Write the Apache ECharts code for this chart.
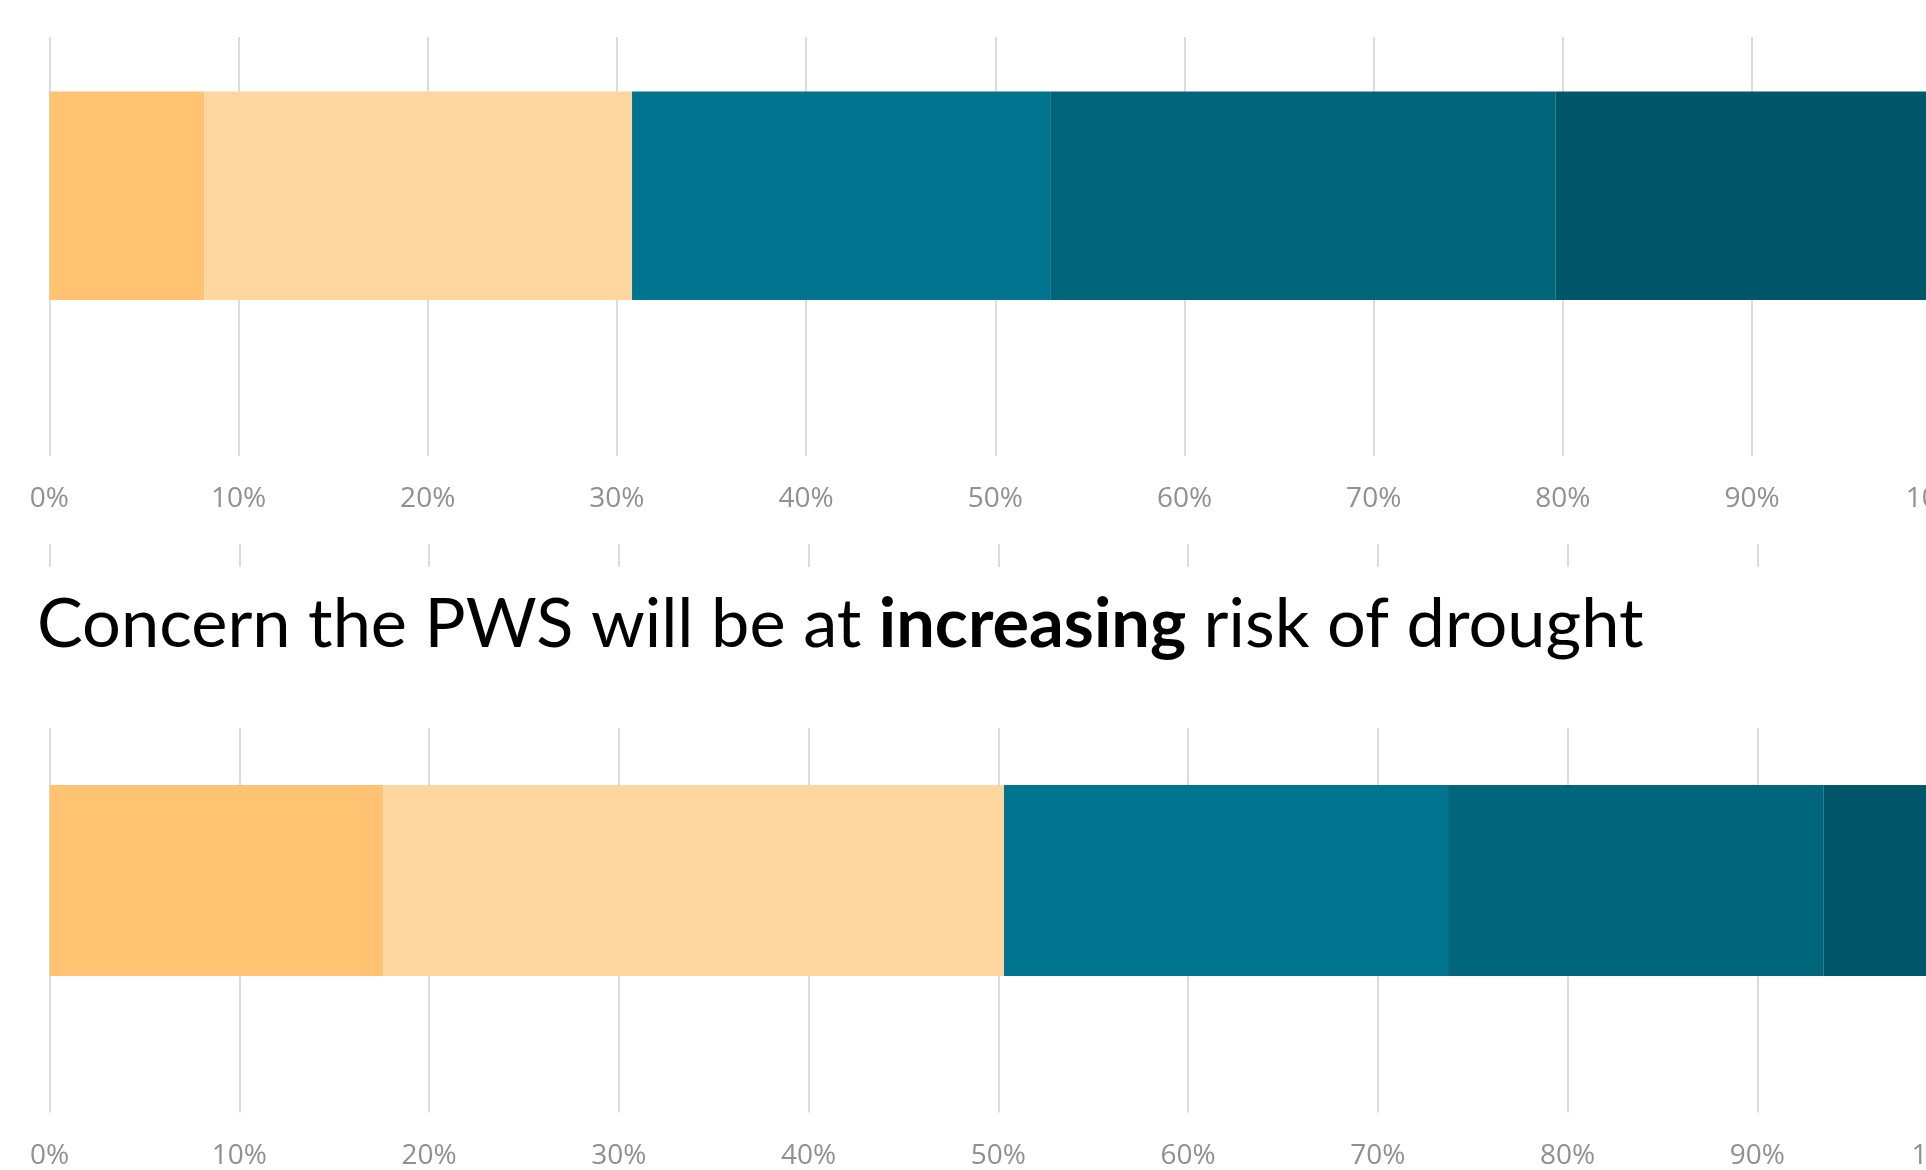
<!DOCTYPE html>
<html>
<head>
<meta charset="utf-8">
<script src="https://cdn.jsdelivr.net/npm/echarts@6/dist/echarts.min.js"></script>
<style>
html,body{margin:0;padding:0;background:#fff;overflow:hidden;}
#chart{width:1990px;height:1170px;}
</style>
</head>
<body>
<div id="chart"></div>
<script>
// ---- data ----
const levels = ['Not at all concerned', 'Slightly concerned', 'Moderately concerned', 'Very concerned', 'Extremely concerned'];
const categories = ['Current risk of drought', 'Increasing risk of drought'];
const topValues = [8.2, 22.6, 22.1, 26.7, 20.4];
const bottomValues = [17.6, 32.7, 23.4, 19.8, 6.5];
const tickValues = [0, 10, 20, 30, 40, 50, 60, 70, 80, 90, 100];
const colors = ['#FFC372', '#FED6A0', '#01758F', '#01667B', '#01566A'];
const titleText = 'Concern the PWS will be at ';
const titleBold = 'increasing';
const titleEnd = ' risk of drought';

const chart = echarts.init(document.getElementById('chart'), null, {renderer: 'canvas'});

const labelStyle = {fontFamily: 'Open Sans', fontSize: 28, color: '#909090'};
function gridAxis(gridIndex, margin) {
  return {
    type: 'value', gridIndex, min: tickValues[0], max: tickValues[tickValues.length - 1],
    interval: tickValues[1] - tickValues[0],
    axisLine: {show: false}, axisTick: {show: false},
    axisLabel: Object.assign({margin, formatter: '{value}%'}, labelStyle),
    splitLine: {show: true, lineStyle: {color: '#dcdcdc', width: 2}}
  };
}
function barAxis(gridIndex) {
  return {
    type: 'value', gridIndex, min: tickValues[0], max: tickValues[tickValues.length - 1],
    show: false, splitLine: {show: false}
  };
}
function catAxis(gridIndex, cat) {
  return {type: 'category', gridIndex, data: [cat], show: false, boundaryGap: true};
}

const series = [];
levels.forEach((name, i) => {
  series.push({
    name, type: 'bar', stack: 'top', xAxisIndex: 1, yAxisIndex: 1,
    barWidth: '100%', data: [topValues[i]], itemStyle: {color: colors[i]}, z: 3
  });
});
levels.forEach((name, i) => {
  series.push({
    name, type: 'bar', stack: 'bottom', xAxisIndex: 3, yAxisIndex: 3,
    barWidth: '100%', data: [bottomValues[i]], itemStyle: {color: colors[i]}, z: 3
  });
});

chart.setOption({
  animation: false,
  backgroundColor: '#ffffff',
  grid: [
    {left: 49.3, width: 1892, top: 37, height: 419},
    {left: 49.3, width: 1892, top: 91.5, height: 208.5},
    {left: 49.5, width: 1897.6, top: 544, height: 576.5},
    {left: 49.5, width: 1897.6, top: 785, height: 191}
  ],
  xAxis: [gridAxis(0, 29), barAxis(1), gridAxis(2, 29.5), barAxis(3)],
  yAxis: [catAxis(0, categories[0]), catAxis(1, categories[0]), catAxis(2, categories[1]), catAxis(3, categories[1])],
  series,
  graphic: [
    {type: 'rect', z: 100, shape: {x: 0, y: 567, width: 1990, height: 161}, style: {fill: '#ffffff'}},
    {type: 'text', z: 101, x: 37, y: 625,
      style: {
        text: '{n|' + titleText + '}{b|' + titleBold + '}{n|' + titleEnd + '}',
        verticalAlign: 'middle', align: 'left',
        rich: {
          n: {fontFamily: 'Lato', fontSize: 68.5, fill: '#000000', color: '#000000'},
          b: {fontFamily: 'Lato', fontSize: 68.5, fontWeight: 'bold', fill: '#000000', color: '#000000'}
        }
      }
    }
  ]
});
</script>
</body>
</html>
